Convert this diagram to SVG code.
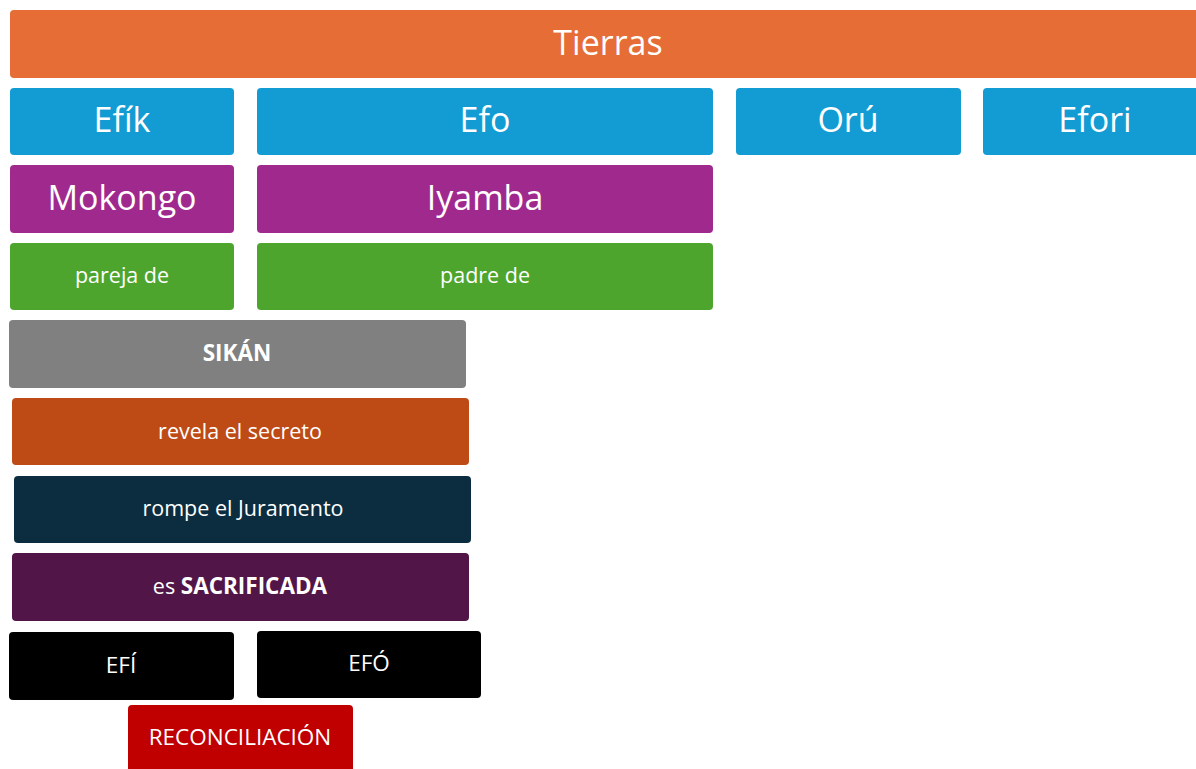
<svg xmlns="http://www.w3.org/2000/svg" width="1196" height="769" viewBox="0 0 1196 769">
<style>
rect{rx:4px;ry:4px}
text{font-family:"Open Sans","Noto Sans","Liberation Sans",sans-serif;fill:#fff;text-anchor:middle}
.l{font-size:34px}
.s{font-size:21.5px}
.c{font-size:22.5px}
.b{font-weight:bold}
</style>
<rect width="1196" height="769" fill="#fff" rx="0" ry="0"/>
<g id="tierras"><rect x="10" y="10" width="1197" height="68" fill="#E66D35"/><text class="l" x="608" y="55">Tierras</text></g>
<g id="efik"><rect x="10" y="88" width="224" height="67" fill="#129CD3"/><text class="l" x="122" y="132">Efík</text></g>
<g id="efo"><rect x="257" y="88" width="456" height="67" fill="#129CD3"/><text class="l" x="485" y="132">Efo</text></g>
<g id="oru"><rect x="736" y="88" width="225" height="67" fill="#129CD3"/><text class="l" x="848" y="132">Orú</text></g>
<g id="efori"><rect x="983" y="88" width="224" height="67" fill="#129CD3"/><text class="l" x="1095" y="132">Efori</text></g>
<g id="mokongo"><rect x="10" y="165" width="224" height="68" fill="#A0298E"/><text class="l" x="122" y="210">Mokongo</text></g>
<g id="iyamba"><rect x="257" y="165" width="456" height="68" fill="#A0298E"/><text class="l" x="485" y="210">Iyamba</text></g>
<g id="pareja"><rect x="10" y="243" width="224" height="67" fill="#4EA52E"/><text class="s" x="122" y="283">pareja de</text></g>
<g id="padre"><rect x="257" y="243" width="456" height="67" fill="#4EA52E"/><text class="s" x="485" y="283">padre de</text></g>
<g id="sikan"><rect x="9" y="320" width="457" height="68" fill="#808080"/><text class="c b" x="237" y="361">SIKÁN</text></g>
<g id="revela"><rect x="12" y="398" width="457" height="67" fill="#BE4B15"/><text class="s" x="240" y="439">revela el secreto</text></g>
<g id="rompe"><rect x="14" y="476" width="457" height="67" fill="#0C2D40"/><text class="s" x="243" y="516">rompe el Juramento</text></g>
<g id="sacrificada"><rect x="12" y="553" width="457" height="68" fill="#521547"/><text class="s" x="240" y="594">es <tspan class="c b">SACRIFICADA</tspan></text></g>
<g id="efi"><rect x="9" y="632" width="225" height="68" fill="#000"/><text class="c" x="121" y="673">EFÍ</text></g>
<g id="efo2"><rect x="257" y="631" width="224" height="67" fill="#000"/><text class="c" x="369" y="671">EFÓ</text></g>
<g id="reconciliacion"><rect x="128" y="705" width="225" height="70" fill="#C00000"/><text class="c" x="240" y="745">RECONCILIACIÓN</text></g>
<g id="connectors"></g>
</svg>
